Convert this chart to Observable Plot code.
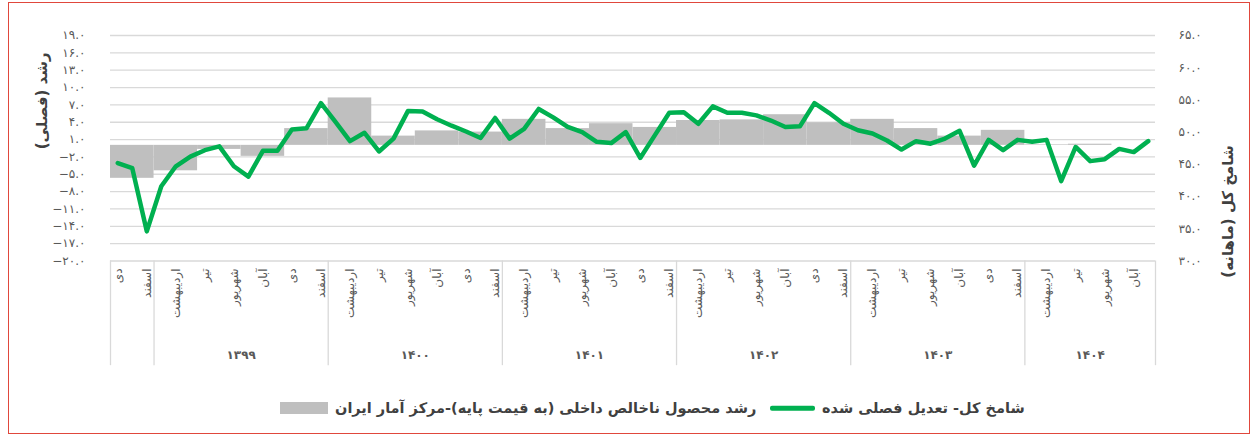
<!DOCTYPE html>
<html><head><meta charset="utf-8">
<script src="https://cdn.jsdelivr.net/npm/d3@7"></script>
<script src="https://cdn.jsdelivr.net/npm/@observablehq/plot@0.6"></script>
<style>
body{margin:0;background:#fff;}
#wrap{position:relative;width:1255px;height:438px;overflow:hidden;font-family:"DejaVu Sans",sans-serif;}
#chart{position:absolute;left:0;top:0;}
#frame{position:absolute;left:8px;top:2px;width:1242px;height:432px;border:1.5px solid #e0473c;box-sizing:border-box;pointer-events:none;}
#legend{position:absolute;top:397px;left:0;width:1255px;height:22px;color:#404040;font-weight:bold;font-size:14.5px;}
#legend > *{position:absolute;top:50%;transform:translateY(-50%);white-space:nowrap;}
#legend .sw-bar{left:280px;width:48px;height:12px;background:#bfbfbf;}
#legend .sw-line{left:770px;width:45px;height:4.5px;background:#00b050;border-radius:2px;}
#legend .t1{left:335px;}
#legend .t2{left:822px;}
</style></head>
<body><div id="wrap"><div id="chart"></div>
<div id="legend"><span class="sw-bar"></span><span class="t1" dir="rtl">رشد محصول ناخالص داخلی (به قیمت پایه)-مرکز آمار ایران</span><span class="sw-line"></span><span class="t2" dir="rtl">شامخ کل- تعدیل فصلی شده</span></div>
<div id="frame"></div></div>
<script>
// Persian month names (Farvardin..Esfand)
const monthNames = ["فروردین","اردیبهشت","خرداد","تیر","مرداد","شهریور","مهر","آبان","آذر","دی","بهمن","اسفند"];
// Year group labels (first partial year 1398 has no label)
const yearLabels = ["", "۱۳۹۹", "۱۴۰۰", "۱۴۰۱", "۱۴۰۲", "۱۴۰۳", "۱۴۰۴"];
// First month shown: Dey (index 9) of 1398
const firstMonthIndex = 9;
// Shamekh (PMI) total, seasonally adjusted, monthly from Dey 1398 to Azar 1404
const pmi = [45.2,44.4,34.6,41.6,44.7,46.2,47.2,47.8,44.7,43.1,47.1,47.1,
             50.4,50.6,54.5,51.6,48.6,49.9,47.0,49.0,53.3,53.2,52.0,51.0,
             50.1,49.1,52.2,49.0,50.5,53.6,52.3,50.8,50.0,48.5,48.3,50.0,
             46.0,49.5,53.0,53.1,51.3,54.0,53.0,53.0,52.6,51.8,50.8,50.9,
             54.5,53.0,51.3,50.3,49.8,48.7,47.3,48.6,48.2,49.0,50.2,44.8,
             48.8,47.2,48.8,48.5,48.8,42.4,47.7,45.5,45.8,47.4,46.9,48.6];
// Quarterly GDP growth (basic prices), Q4 1398 .. Q3 1404
const gdpGrowth = [-5.7,-4.4,-0.7,-1.9,2.9,8.2,1.6,2.5,2.3,4.5,2.9,3.75,3.1,4.3,4.4,5.3,3.9,4.5,2.9,1.6,2.6,0.1,0.2,null];
// Axis ticks
const leftTicks = [-20,-17,-14,-11,-8,-5,-2,1,4,7,10,13,16,19];
const rightTicks = [30,35,40,45,50,55,60,65];
const leftDomain = [-20, 19];
const rightDomain = [30, 65];
const leftTitle = "رشد (فصلی)";
const rightTitle = "شامخ کل (ماهانه)";

const RLM = "\u200F";
const toLeft = v => leftDomain[0] + (v - rightDomain[0]) * (leftDomain[1] - leftDomain[0]) / (rightDomain[1] - rightDomain[0]);
const faDigits = s => s.replace(/[0-9]/g, d => "۰۱۲۳۴۵۶۷۸۹"[+d]);
const fmt = v => faDigits(d3.format(".1f")(v));

const nMonths = pmi.length;
const months = pmi.map((v, k) => ({k, v, m: (firstMonthIndex + k) % 12}));
const monthLabels = months.filter(d => d.k % 2 === 0).map(d => ({k: d.k, name: monthNames[d.m]}));
const groupStarts = [0, ...months.filter(d => d.m === 0).map(d => d.k)];
const groups = groupStarts.map((s, i) => ({s, e: i + 1 < groupStarts.length ? groupStarts[i + 1] : nMonths, label: yearLabels[i]}));
const seps = [...groupStarts, nMonths];
const bars = gdpGrowth.map((v, q) => ({q, v})).filter(d => d.v != null);

const chart = Plot.plot({
  width: 1255, height: 375,
  marginLeft: 110, marginRight: 100, marginTop: 35, marginBottom: 114.5,
  x: {domain: [0, nMonths], axis: null},
  y: {domain: leftDomain, axis: null},
  style: {fontFamily: "DejaVu Sans", fontSize: "12px", color: "#595959", background: "transparent", overflow: "visible"},
  marks: [
    Plot.ruleY(leftTicks, {x1: 0, x2: nMonths, y: d => d, stroke: "#d9d9d9", strokeWidth: 1.3}),
    Plot.rect(bars, {x1: d => d.q * 3, x2: d => d.q * 3 + 3, y1: 0, y2: d => d.v, fill: "#bfbfbf"}),
    Plot.line(months, {x: d => d.k + 0.5, y: d => toLeft(d.v), stroke: "#00b050", strokeWidth: 4.5, strokeLinejoin: "round", strokeLinecap: "round"}),
    Plot.ruleX(seps, {x: d => d, y1: -20, y2: -38.1, stroke: "#d9d9d9", strokeWidth: 1.3}),
    Plot.text(leftTicks, {x: 0, y: d => d, text: fmt, textAnchor: "end", dx: -25, fill: "#595959", fontSize: 12}),
    Plot.text(rightTicks, {x: nMonths, y: d => toLeft(d), text: fmt, textAnchor: "start", dx: 23, fill: "#595959", fontSize: 12}),
    Plot.text(monthLabels, {x: d => d.k + 0.5, y: -21.3, text: "name", rotate: -90, textAnchor: "end", fill: "#595959", fontSize: 12}),
    Plot.text(groups.filter(g => g.label), {x: g => (g.s + g.e) / 2, y: -36.2, text: "label", fill: "#595959", fontSize: 12, fontWeight: "bold"}),
    Plot.text([leftTitle + RLM], {frameAnchor: "left", dx: -68, dy: 1, rotate: -90, fill: "#404040", fontSize: 15, fontWeight: "bold"}),
    Plot.text([rightTitle + RLM], {frameAnchor: "right", dx: 73, dy: -3, rotate: -90, fill: "#404040", fontSize: 15, fontWeight: "bold"})
  ]
});
document.getElementById("chart").appendChild(chart);
</script>
</body></html>
